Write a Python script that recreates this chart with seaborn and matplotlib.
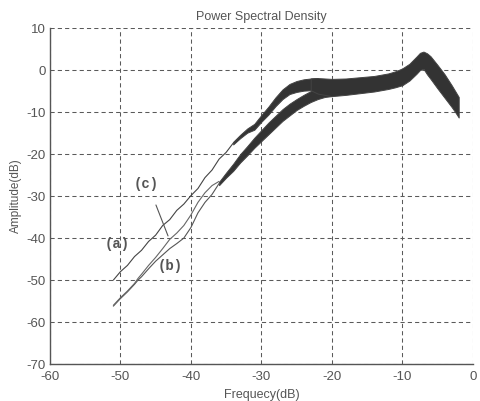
import matplotlib
matplotlib.use("Agg")
import matplotlib.pyplot as plt
import seaborn as sns

# thin rising parts of the three spectra
freq_a = [-51, -50, -49, -48, -47, -46, -45, -44, -43, -42, -41, -40, -39, -38, -37, -36, -35, -34, -33]
amp_a = [-50.0, -48.0, -46.5, -44.4, -42.9, -40.8, -39.3, -37.0, -35.6, -33.4, -31.9, -29.9, -28.2, -25.6, -23.8, -21.2, -19.6, -17.4, -15.8]

freq_b = [-51, -50, -49, -48, -47.5, -47, -46, -45, -44, -43, -42, -41, -40, -39, -38, -37, -36]
amp_b = [-56.2, -54.4, -52.8, -51.0, -50.0, -49.2, -47.3, -45.5, -44.0, -42.5, -41.3, -40.0, -37.5, -34.0, -31.5, -29.6, -27.0]

freq_c = [-51, -50, -49, -48, -47.5, -47, -46, -45, -44, -43, -42, -41, -40, -39, -38, -37, -36]
amp_c = [-56.0, -54.2, -52.6, -50.8, -49.6, -48.6, -46.5, -44.6, -42.5, -40.3, -38.8, -37.0, -34.5, -31.5, -29.2, -27.5, -26.5]

# noisy thick parts: upper / lower envelopes
band_a_freq = [-34, -33, -32, -31, -30, -29, -28, -27, -26, -25, -24, -23, -22]
band_a_hi = [-17.1, -15.4, -13.9, -12.8, -10.7, -8.7, -6.5, -4.6, -3.3, -2.6, -2.2, -2.0, -1.9]
band_a_lo = [-17.7, -16.2, -14.9, -14.2, -12.3, -10.6, -8.6, -6.9, -5.7, -5.2, -4.9, -4.8, -4.8]

band_b_freq = [-36, -35, -34, -33, -32, -31, -30, -29, -28, -27, -26, -25, -24, -23, -22, -21, -20]
band_b_hi = [-26.6, -24.4, -22.3, -20.0, -18.1, -16.1, -14.3, -12.5, -10.9, -9.3, -8.0, -6.9, -5.9, -5.0, -4.3, -3.8, -3.2]
band_b_lo = [-27.4, -25.6, -24.0, -22.0, -20.3, -18.5, -16.9, -15.3, -13.7, -12.1, -10.8, -9.5, -8.5, -7.6, -6.9, -6.4, -6.2]

band_m_freq = [-23, -22, -20, -18, -16, -14, -12, -11, -10, -9, -8, -7.5, -7, -6.5, -6, -5, -4, -3, -2.5, -2]
band_m_hi = [-2.0, -1.9, -2.1, -2.0, -1.7, -1.4, -0.8, -0.3, 0.4, 1.5, 3.2, 4.1, 4.4, 4.0, 3.3, 1.2, -1.0, -3.6, -5.0, -6.4]
band_m_lo = [-4.8, -5.6, -6.2, -5.9, -5.5, -5.1, -4.5, -4.1, -3.6, -2.5, -0.9, 0.0, 0.3, -1.0, -2.1, -4.4, -6.6, -8.8, -10.0, -11.3]

x_ticks = [-60, -50, -40, -30, -20, -10, 0]
y_ticks = [10, 0, -10, -20, -30, -40, -50, -60, -70]

sns.set_style("white")
plt.rcParams["font.family"] = ["Liberation Sans", "DejaVu Sans"]
plt.rcParams["axes.unicode_minus"] = False

fig = plt.figure(figsize=(4.8, 4.01), dpi=100)
ax = fig.add_axes([0.104, 0.092, 0.881, 0.838])

gray = "#555555"
sns.lineplot(x=freq_a, y=amp_a, ax=ax, color="#444444", lw=0.8, sort=False)
sns.lineplot(x=freq_b, y=amp_b, ax=ax, color="#555555", lw=0.8, sort=False)
sns.lineplot(x=freq_c, y=amp_c, ax=ax, color="#666666", lw=0.8, sort=False)

for fx, hi, lo in [(band_a_freq, band_a_hi, band_a_lo),
                   (band_b_freq, band_b_hi, band_b_lo),
                   (band_m_freq, band_m_hi, band_m_lo)]:
    ax.fill_between(fx, lo, hi, color="#333333", lw=0.7, edgecolor="#444444")

ax.set_xlim(-60, 0)
ax.set_ylim(-70, 10)
ax.set_xticks(x_ticks)
ax.set_yticks(y_ticks)
ax.tick_params(direction="in", length=3, labelsize=9.5, colors=gray)
ax.tick_params(axis="x", pad=5)
ax.tick_params(axis="y", pad=3)
ax.grid(True, color="#5a5a5a", lw=0.75, linestyle=(0, (4, 3)))
ax.set_axisbelow(True)
for s in ["top", "right"]:
    ax.spines[s].set_visible(False)
for s in ["left", "bottom"]:
    ax.spines[s].set_color(gray)
    ax.spines[s].set_linewidth(1.0)

ax.set_title("Power Spectral Density", fontsize=9, color=gray, pad=6)
ax.set_xlabel("Frequecy(dB)", fontsize=9, color=gray)
ax.set_ylabel("Amplitude(dB)", fontsize=8.5, color=gray)
ax.xaxis.set_label_coords(0.5, -0.075)
ax.yaxis.set_label_coords(-0.066, 0.5)

lab = dict(fontsize=10, fontweight="bold", color=gray, family="Liberation Mono",
           ha="center", va="center")
ax.text(-50.5, -41.3, "(a)", **lab)
ax.text(-43.0, -46.6, "(b)", **lab)
ax.text(-46.3, -27.1, "(c)", **lab)
ax.annotate("", xy=(-43.1, -40.1), xytext=(-45.1, -31.5),
            arrowprops=dict(arrowstyle="-", color=gray, lw=0.8))

fig.savefig("out.png", dpi=100)
